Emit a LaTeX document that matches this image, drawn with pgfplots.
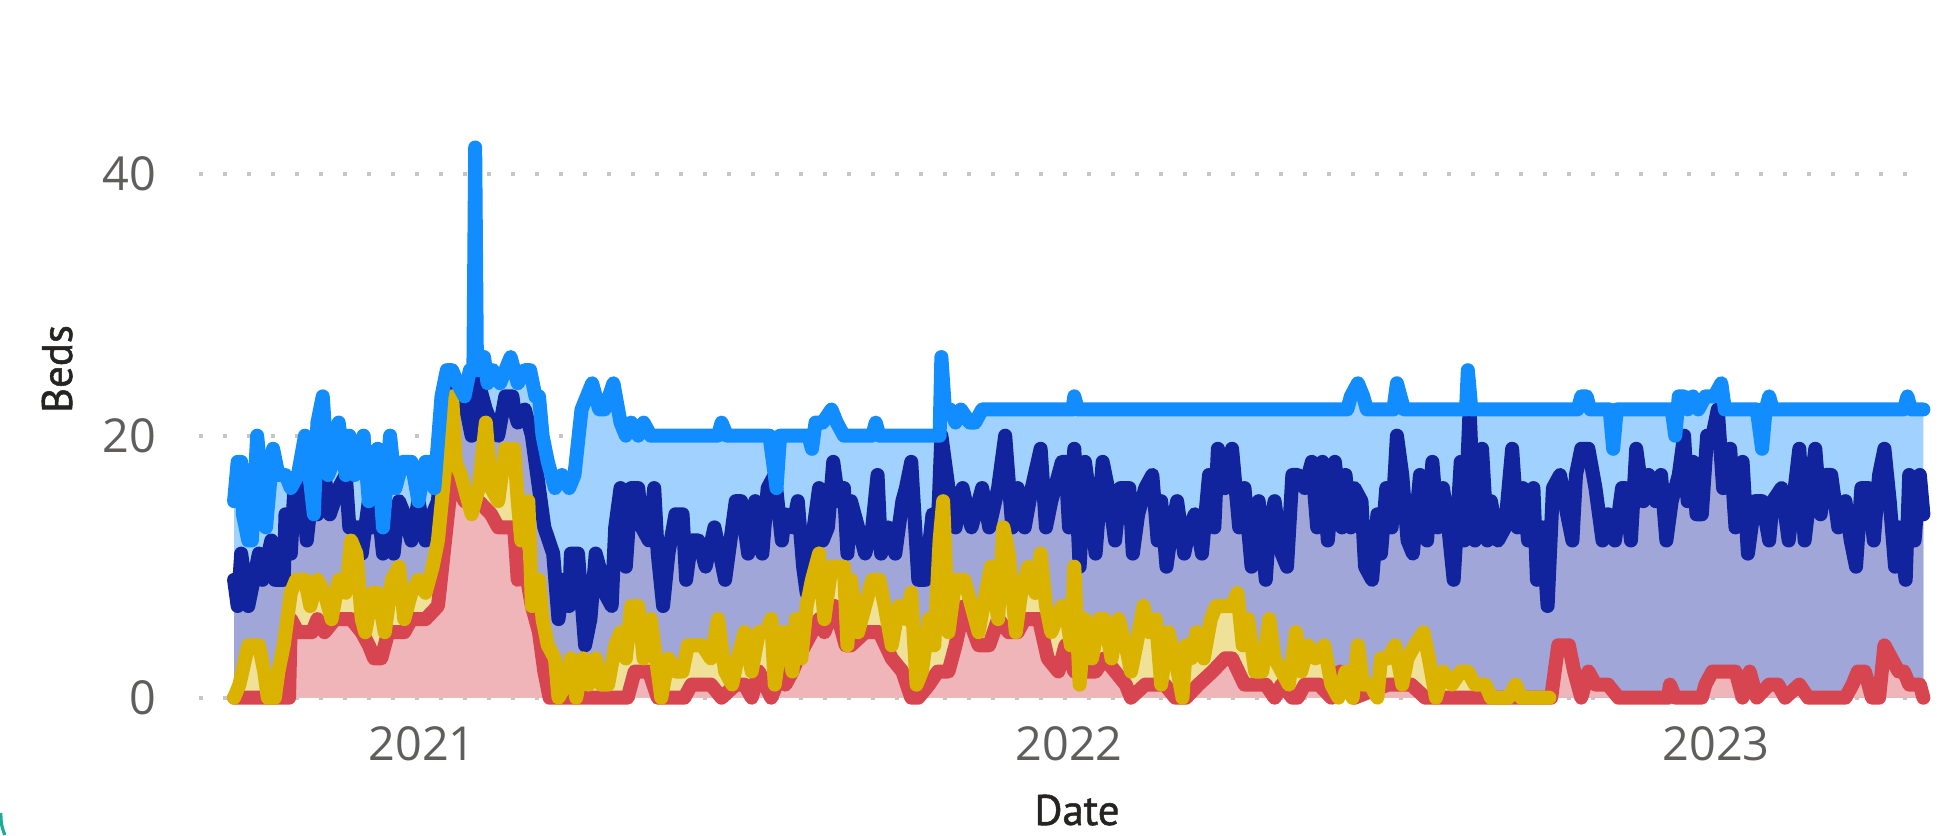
\documentclass[border=0pt]{standalone}
\usepackage{fontspec}
\setmainfont{Open Sans}
\newfontfamily\titlefont{PT Sans}[FakeBold=1.2]
\usepackage{pgfplots}
\usepackage{pgfplotstable}
\pgfplotsset{compat=1.18}
\definecolor{lbline}{HTML}{118DFF}
\definecolor{lbfill}{HTML}{A0D1FF}
\definecolor{dbline}{HTML}{12239E}
\definecolor{dbfill}{HTML}{A0A7D8}
\definecolor{yline}{HTML}{D9B300}
\definecolor{yfill}{HTML}{F0E199}
\definecolor{rline}{HTML}{D64550}
\definecolor{rfill}{HTML}{EFB5B9}
\definecolor{gridc}{HTML}{C8C6C4}
\definecolor{tickc}{HTML}{605E5C}
\definecolor{titlec}{HTML}{252423}
\definecolor{tealc}{HTML}{1AAB9B}

% x = days since 2021-01-01
\pgfplotstableread{
d v
-106 15
-104 18
-102 18
-101 14
-98 12
-96 12
-93 20
-90 16
-88 13
-84 19
-81 17
-77 17
-74 16
-70 17
-66 20
-61 14
-59 21
-56 23
-53 17
-50 18
-47 21
-43 17
-41 20
-38 17
-33 20
-30 15
-27 17
-25 19
-22 13
-18 20
-15 16
-11 18
-6 18
-2 15
2 18
4 18
7 16
11 23
14 25
17 25
20 24
24 23
27 25
29 25
30 42
31 25
33 26
35 26
37 24
40 25
44 24
47 25
50 26
54 24
58 25
61 25
64 23
66 23
68 20
71 18
75 16
79 17
83 16
86 17
90 22
96 24
100 22
103 22
108 24
112 21
115 20
118 21
122 20
125 21
129 20
167 20
169 21
172 20
196 20
198 18
200 16
202 20
218 20
220 19
222 21
226 21
231 22
234 21
238 20
254 20
256 21
258 20
292 20
293 26
295 22
298 22
301 21
304 22
309 21
312 21
316 22
367 22
368 23
370 22
522 22
524 23
528 24
531 23
533 22
548 22
550 24
552 23
554 22
589 22
590 25
592 22
652 22
654 23
657 23
659 22
670 22
672 19
674 22
705 22
707 20
709 23
712 23
714 22
717 23
720 22
724 23
729 23
733 24
735 22
753 22
756 19
758 22
760 23
762 22
836 22
838 23
840 22
847 22
}\lbdata

\pgfplotstableread{
d v
-106 9
-104 7
-102 11
-98 7
-95 9
-92 11
-90 9
-85 12
-83 9
-78 9
-77 14
-74 11
-72 16
-68 17
-65 12
-61 17
-59 14
-55 17
-52 14
-47 16
-43 17
-41 13
-36 13
-34 11
-30 15
-28 13
-25 15
-22 11
-19 13
-16 11
-13 15
-10 14
-6 12
-2 15
2 12
6 14
9 15
13 22
17 23
21 24
25 22
28 20
30 21
32 24
36 22
39 21
43 20
47 23
51 23
52 22
54 21
58 22
62 20
66 16
69 13
74 11
77 6
80 9
83 7
84 11
88 11
92 4
95 6
98 11
100 10
103 8
107 7
109 13
112 16
115 10
118 16
122 16
124 13
128 12
131 16
133 11
136 7
139 11
143 14
147 14
149 9
152 12
156 12
160 10
165 13
171 9
177 15
180 15
184 11
188 15
192 11
195 16
199 17
203 12
205 14
209 13
212 15
215 10
217 8
220 12
224 16
226 12
229 13
232 18
235 15
238 16
240 11
242 15
246 13
250 11
254 13
257 17
259 11
263 13
267 11
271 15
273 16
276 18
280 9
284 9
288 14
291 13
293 20
297 16
301 13
305 16
310 13
316 16
320 13
325 16
329 20
333 13
336 16
340 13
344 16
349 19
352 13
355 15
361 18
363 18
365 13
368 19
371 10
374 18
377 15
380 11
384 18
387 16
391 12
394 16
399 16
401 11
404 14
408 16
412 17
415 12
417 15
420 10
423 13
426 15
430 11
433 13
436 14
440 11
444 17
447 13
449 19
453 16
457 19
461 13
464 16
468 10
472 15
476 9
478 13
481 15
485 11
488 10
491 17
494 17
498 16
502 18
505 13
508 18
511 12
515 18
519 13
521 17
524 13
526 16
530 15
532 10
536 9
539 14
541 11
544 16
547 13
550 20
553 17
556 12
559 11
563 17
567 12
570 18
573 13
576 16
579 13
582 9
586 18
588 12
591 22
594 12
598 19
601 12
603 15
607 12
611 13
615 19
618 13
621 16
624 12
627 16
629 9
632 13
635 7
638 16
642 17
646 14
649 12
651 17
654 19
658 19
662 16
666 12
669 14
673 12
677 16
679 16
682 12
685 19
689 15
692 17
696 15
699 17
702 12
705 15
709 17
712 20
714 15
717 18
719 14
722 14
725 20
728 20
731 22
734 16
738 19
741 13
745 18
748 11
752 15
756 15
760 12
762 15
767 16
771 12
777 19
780 12
786 19
789 14
792 17
795 17
799 13
803 15
806 12
809 10
812 16
816 16
819 12
822 17
825 19
828 15
831 10
833 13
837 9
839 17
842 12
845 17
847 14
}\dbdata

\pgfplotstableread{
d v
-106 0
-103 1
-98 4
-92 4
-89 2
-87 0
-83 0
-81 2
-78 4
-76 6
-74 8
-71 9
-66 9
-63 7
-59 9
-55 8
-51 6
-47 9
-43 8
-40 12
-37 11
-34 6
-32 5
-28 8
-25 8
-21 5
-17 9
-13 10
-10 6
-6 8
-2 9
2 8
6 10
9 12
17 23
19 18
22 17
28 14
32 16
36 21
39 16
43 15
47 19
52 19
54 15
56 12
60 15
62 7
66 9
68 6
71 4
75 3
77 0
81 1
84 3
87 0
91 3
94 1
98 3
101 1
105 1
109 4
112 5
115 3
118 7
122 7
125 3
129 6
132 3
135 0
139 3
143 2
147 2
150 4
154 4
158 4
163 3
167 6
171 2
175 1
178 3
182 5
186 2
190 5
194 5
197 6
199 1
203 5
205 5
209 2
211 6
214 3
217 7
220 9
224 11
227 6
231 10
235 10
238 10
240 4
242 9
246 5
250 7
254 9
258 9
261 7
265 4
269 7
273 6
276 8
279 1
282 2
286 6
289 4
292 12
294 15
297 5
301 9
306 9
310 7
314 5
318 8
321 10
325 6
328 13
331 11
335 5
338 8
342 10
346 8
349 11
352 7
355 5
361 7
363 7
366 4
368 10
371 1
374 6
378 3
382 6
385 6
389 3
393 6
397 4
400 2
403 4
407 7
410 5
414 6
417 1
421 5
425 3
429 0
431 4
434 3
437 5
441 3
445 6
448 7
452 7
457 7
460 8
463 4
466 6
470 2
474 2
478 6
481 3
485 2
489 1
493 5
496 2
500 4
504 3
509 4
513 1
517 0
521 2
525 0
528 4
531 1
535 1
539 0
541 3
545 3
549 4
553 1
556 3
560 4
565 5
568 3
572 0
576 2
581 1
586 2
590 2
594 1
600 1
603 0
613 0
617 1
620 0
636 0
}\ydata

\pgfplotstableread{
d v
-106 0
-75 0
-74 6
-70 5
-62 5
-59 6
-55 5
-49 6
-45 6
-40 6
-34 5
-30 4
-27 3
-23 3
-19 5
-13 5
-10 5
-6 6
2 6
9 7
13 12
17 17
24 15
32 15
39 14
43 13
47 13
52 13
54 9
58 10
62 7
66 5
69 2
72 0
116 0
120 2
128 2
133 0
148 0
152 1
163 1
169 0
177 1
182 1
186 0
190 2
197 0
203 2
205 1
209 2
212 3
216 4
220 5
224 6
227 5
233 7
239 4
242 4
250 5
258 5
265 3
271 2
276 0
280 0
286 1
291 2
297 2
301 4
306 7
314 4
320 4
325 6
331 5
336 5
340 6
348 6
353 3
359 2
363 4
368 2
380 2
385 3
391 2
397 1
400 0
408 1
419 1
425 0
431 0
438 1
446 2
453 3
457 3
464 1
476 1
481 0
485 1
491 0
494 0
498 1
506 1
513 0
518 2
521 1
526 0
545 1
558 1
566 0
637 0
641 4
647 4
650 2
654 0
658 2
662 1
669 1
675 0
703 0
704 1
707 0
722 0
724 1
728 2
741 2
745 0
749 2
753 0
760 1
765 1
769 0
777 1
782 0
803 0
807 1
810 2
814 2
818 0
822 0
825 4
829 3
833 2
836 2
839 1
845 1
847 0
}\rdata

\begin{document}
\begin{tikzpicture}
\useasboundingbox (0,0) rectangle (486.5pt,208.75pt);
\begin{axis}[
  at={(49.75pt,34.325pt)}, anchor=south west,
  scale only axis, width=431.75pt, height=163.75pt,
  xmin=-125.8, xmax=848.5, ymin=0, ymax=50,
  clip=false,
  axis line style={draw=none},
  tick style={draw=none},
  major tick length=0pt,
  xtick={0,365,730}, xticklabels={2021,2022,2023},
  ytick={0,20,40}, yticklabels={0,20,40},
  ymajorgrids,
  grid style={gridc, line width=1pt, dash pattern=on 1pt off 5pt},
  xticklabel style={font=\fontsize{11.7}{13}\selectfont, text=tickc, anchor=north, inner sep=0pt, yshift=-7pt},
  yticklabel style={font=\fontsize{11.7}{13}\selectfont, text=tickc, anchor=east, inner sep=0pt, xshift=-10.5pt},
]
\addplot[fill=lbfill, draw=none] table[x=d,y=v]{\lbdata} \closedcycle;
\addplot[fill=dbfill, draw=none] table[x=d,y=v]{\dbdata} \closedcycle;
\addplot[fill=yfill, draw=none] table[x=d,y=v]{\ydata} \closedcycle;
\addplot[fill=rfill, draw=none] table[x=d,y=v]{\rdata} \closedcycle;
\addplot[draw=dbline, line width=3.5pt, line join=round, line cap=round] table[x=d,y=v]{\dbdata};
\addplot[draw=rline, line width=3.5pt, line join=round, line cap=round] table[x=d,y=v]{\rdata};
\addplot[draw=yline, line width=3.5pt, line join=round, line cap=round] table[x=d,y=v]{\ydata};
\addplot[draw=lbline, line width=3.5pt, line join=round, line cap=round] table[x=d,y=v]{\lbdata};
\end{axis}
\node[anchor=base, inner sep=0pt, text=titlec, font=\titlefont\fontsize{10.7}{12}\selectfont] at (269.25pt,2.5pt) {Date};
\node[rotate=90, anchor=base, inner sep=0pt, text=titlec, font=\titlefont\fontsize{10.7}{12}\selectfont] at (18pt,116.5pt) {Beds};
\draw[tealc, line width=0.8pt] (0.2pt,5.5pt) .. controls (0.3pt,2.5pt) .. (1.2pt,0pt);
\end{tikzpicture}
\end{document}
